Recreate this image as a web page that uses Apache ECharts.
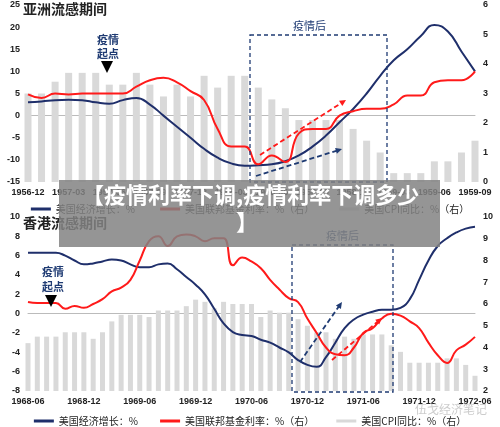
<!DOCTYPE html><html><head><meta charset="utf-8"><script src="https://cdn.jsdelivr.net/npm/echarts@6/dist/echarts.min.js"></script>
<style>html,body{margin:0;padding:0;background:#fff}#c{width:500px;height:427px}</style></head><body><div id="c"></div><script>
const topCats=[];(function(){let y=1956,m=12;for(let i=0;i<34;i++){topCats.push(y+'-'+String(m).padStart(2,'0'));m++;if(m>12){m=1;y++;}}})();
const botCats=[];(function(){let y=1968,m=6;for(let i=0;i<49;i++){botCats.push(y+'-'+String(m).padStart(2,'0'));m++;if(m>12){m=1;y++;}}})();
const topGrowth=[3,3.2,3.5,3.6,3.5,3,2.7,3.5,4,2.5,0,-2.5,-5,-7.5,-9.5,-10.8,-11.3,-11.2,-11,-10.3,-9,-7,-4.5,-1.5,1.5,5,9,12.5,15,18,20.5,19,14.5,10];
const topRate=[2.97,2.85,3.0,2.97,3.0,3.0,3.0,3.0,3.23,3.45,3.53,3.38,3.08,2.78,1.8,1.2,1.2,0.6,0.9,0.68,1.65,1.8,1.8,2.25,2.4,2.48,2.48,2.63,2.93,2.93,3.38,3.45,3.45,3.75];
const topCPI=[3.0,3.0,3.4,3.7,3.7,3.7,3.3,3.3,3.7,3.3,2.9,3.3,2.9,3.6,3.2,3.6,3.6,3.2,2.8,2.5,2.1,2.1,2.1,2.1,1.8,1.4,1.0,0.3,0.3,0.3,0.7,0.7,1.0,1.4];
const botGrowth=[6.3,6.3,6.3,6.3,6,5.5,5.1,5.2,5.4,5.6,5.5,5.1,4.8,4.8,5.1,5.2,4.6,3.8,3,2,0.5,-1,-1.9,-2.2,-2.3,-2.7,-3,-3.5,-4,-4.8,-5.3,-5.5,-4.5,-3,-1.5,-0.6,-0.1,0.2,0.4,0.4,0.6,1.5,3.5,5.5,7,7.8,8.4,8.8,9];
const botRateL=[1.2,1.1,1.1,1.1,0.5,0.8,0.6,1.0,1.5,2.3,2.7,3.5,5.5,7.5,8,7,8,8.2,8,7.5,7.8,7.8,5,5.8,5.4,4.7,3.5,2.5,1.6,1.2,-0.5,-2,-3.5,-4.2,-4.3,-3.5,-2,-1.5,-0.5,0,-0.2,-0.8,-1.5,-3,-4.3,-5.1,-3.8,-3.2,-2.4];
const botRate=botRateL.map(l=>(l+8)*4/9+2);
const botCPI=[4.2,4.5,4.5,4.5,4.7,4.7,4.7,4.4,4.7,5.2,5.5,5.5,5.5,5.4,5.7,5.7,5.7,5.9,6.2,6.1,5.8,6.1,6.0,6.0,6.0,5.4,5.7,5.6,5.6,5.3,5.0,4.7,4.7,4.4,4.5,4.4,4.6,4.6,4.6,4.1,3.8,3.3,3.3,3.3,3.3,3.5,3.5,3.2,2.7];
const NB='美国经济增长：%',NR='美国联邦基金利率：%（右）',NC='美国CPI同比：%（右）';
const ax={color:'#222',fontSize:9,fontWeight:'bold',fontFamily:'Arial'};
function yax(gi,min,max,iv,pos){return {gridIndex:gi,type:'value',min,max,interval:iv,position:pos,axisLine:{show:false},axisTick:{show:false},splitLine:{show:false},axisLabel:ax};}
function xax(gi,d){return {gridIndex:gi,type:'category',data:d,boundaryGap:false,axisTick:{show:false},axisLine:{lineStyle:{color:'#bbb'}},axisLabel:Object.assign({interval:d.length>40?5:2,margin:6},ax)};}
const chart=echarts.init(document.getElementById('c'));
function txt(x,y,t,f,c,z){return {type:'text',x,y,style:{text:t,font:f,fill:c||'#1f3b73'},z:z||10};}
function rect(x1,y1,x2,y2){return {type:'rect',shape:{x:x1,y:y1,width:x2-x1,height:y2-y1},style:{fill:null,stroke:'#1f3b73',lineWidth:1.3,lineDash:[4,3]},z:10};}
function arrow(x1,y1,x2,y2,c){const a=Math.atan2(y2-y1,x2-x1),L=7;return [{type:'line',shape:{x1,y1,x2:x2-Math.cos(a)*4,y2:y2-Math.sin(a)*4},style:{stroke:c,lineWidth:1.8,lineDash:[5,3]},z:10},{type:'polygon',shape:{points:[[x2,y2],[x2-L*Math.cos(a-0.45),y2-L*Math.sin(a-0.45)],[x2-L*Math.cos(a+0.45),y2-L*Math.sin(a+0.45)]]},style:{fill:c},z:10}];}
function tri(x,y){return {type:'polygon',shape:{points:[[x-6,y-7],[x+6,y-7],[x,y+5]]},style:{fill:'#000'},z:10};}
const cjk='"Noto Sans CJK SC"';
chart.setOption({animation:false,
grid:[{left:28,right:25,top:5,height:177},{left:28,right:25,top:217,height:174}],
xAxis:[xax(0,topCats),xax(1,botCats)],
yAxis:[yax(0,-15,25,5,'left'),yax(0,0,6,1,'right'),yax(1,-8,10,2,'left'),yax(1,2,10,1,'right')],
legend:[{top:199,left:'center',itemGap:25,textStyle:{fontSize:10,fontFamily:cjk,color:'#222'},data:[NB,NR,NC].map(n=>({name:n,icon:'rect'})),itemWidth:20,itemHeight:3},
{top:411,left:'center',itemGap:22,textStyle:{fontSize:10,fontFamily:cjk,color:'#222'},data:[NB,NR,NC].map(n=>({name:n,icon:'rect'})),itemWidth:20,itemHeight:3}],
series:[
{name:NC,type:'bar',xAxisIndex:0,yAxisIndex:1,data:topCPI,barWidth:7,itemStyle:{color:'#d9d9d9'}},
{name:NB,type:'line',xAxisIndex:0,yAxisIndex:0,data:topGrowth,smooth:0.5,symbol:'none',lineStyle:{color:'#1f2f6b',width:2},itemStyle:{color:'#1f2f6b'}},
{name:NR,type:'line',xAxisIndex:0,yAxisIndex:1,data:topRate,smooth:0.5,symbol:'none',lineStyle:{color:'#ff1a1a',width:2},itemStyle:{color:'#ff1a1a'}},
{name:NC,type:'bar',xAxisIndex:1,yAxisIndex:3,data:botCPI,barWidth:5,itemStyle:{color:'#d9d9d9'}},
{name:NB,type:'line',xAxisIndex:1,yAxisIndex:2,data:botGrowth,smooth:0.5,symbol:'none',lineStyle:{color:'#1f2f6b',width:2},itemStyle:{color:'#1f2f6b'}},
{name:NR,type:'line',xAxisIndex:1,yAxisIndex:3,data:botRate,smooth:0.5,symbol:'none',lineStyle:{color:'#ff1a1a',width:2},itemStyle:{color:'#ff1a1a'}}],
graphic:[
txt(23,2,'亚洲流感期间','bold 14px '+cjk,'#222'),
txt(23,216,'香港流感期间','bold 14px '+cjk,'#222'),
rect(250,35,387,182),txt(293,20,'疫情后','11px '+cjk),
txt(97,34,'疫情','bold 11px '+cjk),txt(97,48,'起点','bold 11px '+cjk),tri(107,68),
...arrow(260,155,346,100,'#ff1a1a'),...arrow(256,176,342,149,'#1f3b73'),
rect(292,245,393,392),txt(326,230,'疫情后','11px '+cjk),
txt(42,266,'疫情','bold 11px '+cjk),txt(42,281,'起点','bold 11px '+cjk),tri(51,302),
...arrow(300,362,342,302,'#1f3b73'),...arrow(332,360,382,318,'#ff1a1a'),
{type:'rect',shape:{x:59,y:180,width:381,height:67},style:{fill:'rgba(130,130,130,0.85)'},z:20},
txt(82,184,'【疫情利率下调,疫情利率下调多少','bold 22px '+cjk,'#fff',21),
txt(236,211,'】','bold 22px '+cjk,'#fff',21),
txt(415,403,'伍戈经济笔记','12px '+cjk,'rgba(170,170,170,0.6)')
]});
</script></body></html>
